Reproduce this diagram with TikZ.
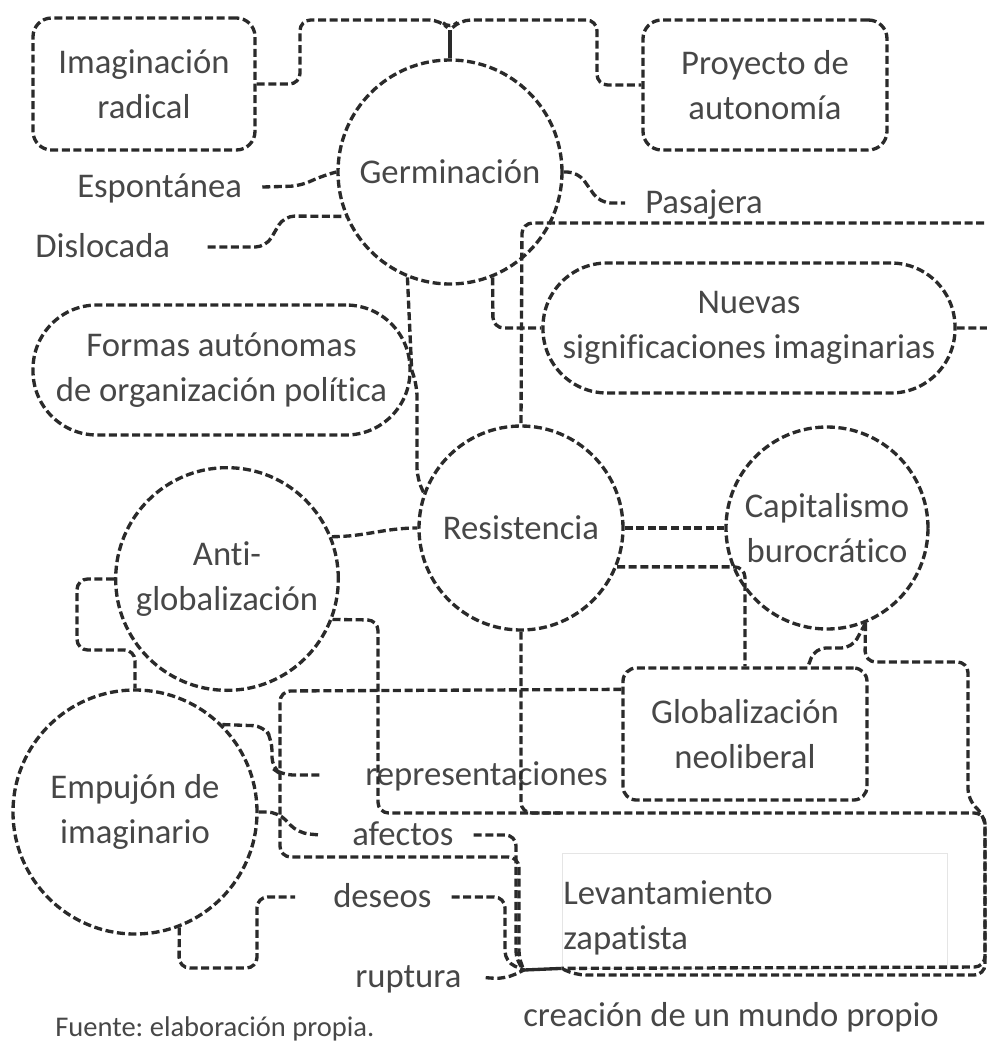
\documentclass[tikz,border=0pt]{standalone}
\usepackage{fontspec}
\setmainfont[Ligatures={NoCommon}]{Carlito}
\usetikzlibrary{calc}
\definecolor{linec}{HTML}{2A2A2A}
\definecolor{txtc}{HTML}{474747}
\newcommand\mainfnt{\fontsize{26}{33.75}\selectfont}
\newcommand\smallfnt{\fontsize{21.4}{26}\selectfont}
\frenchspacing
\begin{document}
\begin{tikzpicture}[x=0.75pt,y=-0.75pt,
  dsh/.style={line width=2.5pt,dash pattern=on 6pt off 2.7pt},
  conn/.style={draw=linec,dsh,rounded corners=8pt},
  solidconn/.style={draw=linec,line width=2.5pt},
  box/.style={draw=linec,dsh,rounded corners=14pt,align=center,text=txtc,font=\mainfnt,inner sep=0pt},
  pill/.style={box,rounded corners=48pt},
  circ/.style={circle,draw=linec,dsh,align=center,text=txtc,font=\mainfnt,inner sep=0pt},
  lbl/.style={text=txtc,font=\mainfnt,inner sep=0pt,anchor=base west},
  levbox/.style={draw=black!10,line width=0.6pt,inner sep=0pt}
]
\useasboundingbox (0,0) rectangle (987,1047);

% ---- nodes
\node[box, minimum width=166.5pt, minimum height=99pt] (imag) at (144,84) {Imaginación\\radical};
\node[box, minimum width=183pt, minimum height=97.5pt] (proy) at (765,85) {Proyecto de\\autonomía};
\node[circ, minimum size=168pt] (germ) at (450,172) {Germinación};
\node[pill, minimum width=309pt, minimum height=97.5pt] (nuev) at (749,328) {Nuevas\\significaciones imaginarias};
\node[pill, minimum width=282.75pt, minimum height=97.5pt] (formas) at (221.5,370) {Formas autónomas\\de organización política};
\node[circ, minimum size=153pt] (resis) at (521,528) {Resistencia};
\node[circ, minimum size=151.5pt] (capit) at (827,528) {Capitalismo\\burocrático};
\node[circ, minimum size=167pt] (anti) at (227,579) {Anti-\\globalización};
\node[box, rounded corners=10pt, minimum width=183pt, minimum height=99pt] (glob) at (745,734) {Globalización\\neoliberal};
\node[circ, minimum size=183pt] (empuj) at (135,812) {Empujón de\\imaginario};
\node[levbox, minimum width=288.75pt, minimum height=86.25pt] (lev) at (754.5,910.5) {};
\node[text=txtc,font=\mainfnt,inner sep=0pt,align=left,anchor=west] (levt) at (563,918) {Levantamiento\\zapatista};

% ---- labels
\node[lbl] (esp) at (77,197) {Espontánea};
\node[lbl] (disl) at (35,257) {Dislocada};
\node[lbl] (pas) at (645,213) {Pasajera};
\node[lbl] (rep) at (365,785) {representaciones};
\node[lbl] (afec) at (352,845) {afectos};
\node[lbl] (des) at (333,907) {deseos};
\node[lbl] (rup) at (355,987) {ruptura};
\node[lbl] (crea) at (523,1026) {creación de un mundo propio};
\node[lbl,font=\smallfnt] (fuente) at (55,1036) {Fuente: elaboración propia.};

% ---- connectors
\coordinate (tj) at (450,30);
\draw[solidconn] (germ.north) -- (tj);
\draw[conn] (imag.east) -- (300,84) -- (300,20) -- (440,20) -- (tj) -- (460,20) -- (597,20) -- (597,85) -- (proy.west);

\draw[conn] ([shift={(15pt,7.5pt)}]esp.base east) -- (300,186) -- (322,176) -- (germ.west);
\draw[conn] ([shift={(28pt,7.5pt)}]disl.base east) -- (266,247) -- (284,216) -- (germ.203);
\draw[conn] (germ.east) -- (578,172) -- (600,203) -- ([shift={(-15pt,7.5pt)}]pas.base west);

\draw[conn] (nuev.east) -- (998,328) -- (998,223) -- (522,223) -- (resis.north);
\draw[conn] (germ.292) -- (493,328) -- (nuev.west);
\draw[conn] (germ.248) -- (formas.east);
\draw[conn] (formas.east) -- (417,386) -- (417,478) -- (resis.160);

\draw[conn] (anti.22) to[out=0,in=180] (resis.west);
\draw[conn] (resis.east) -- (capit.west);
\draw[conn] (resis.338) -| (glob.north);
\draw[conn] (capit.292) -- (852,648) -- (815,648) -- ($(glob.north)+(63,0)$);
\draw[conn] (capit.292) -- (865,662) -- (968,662) -- (968,800) -- (985,816) -- (985,967) -- (lev.south west);

\draw[conn] (anti.339) -- (378,620) -- (378,813) -- (985,813) -- (985,975) -- (575,975) -- (lev.south west);
\coordinate (m1) at (560,813);
\draw[conn] (resis.south) -- (521,813) -- (m1);

\coordinate (J) at (524,970);
\draw[conn] ($(glob.north west)+(0,23)$) -- (280,691) -- (280,857) -- (519,857) -- (519,962) -- (J);
\draw[conn] ([shift={(15pt,7.5pt)}]afec.base east) -- (516,835) -- (516,962) -- (J);
\draw[conn] ([shift={(15pt,7.5pt)}]des.base east) -- (505,897) -- (505,962) -- (J);
\draw[conn] ([shift={(18pt,7pt)}]rup.base east) -- (505,979) -- (J);
\draw[solidconn] (J) -- (lev.south west);

\draw[conn] (empuj.45) -- (264,726) -- (272,740) -- (272,768) -- (282,775) -- ([shift={(-34pt,7.5pt)}]rep.base west);
\draw[conn] (empuj.east) -- (278,812) -- (298,833) -- ([shift={(-24pt,7.5pt)}]afec.base west);
\draw[conn] (empuj.291) -- (179,968) -- (257,968) -- (257,897) -- ([shift={(-28.5pt,7.5pt)}]des.base west);
\draw[conn] (anti.west) -- (77,579) -- (77,650) -- (135,650) -- (empuj.north);
\end{tikzpicture}
\end{document}
